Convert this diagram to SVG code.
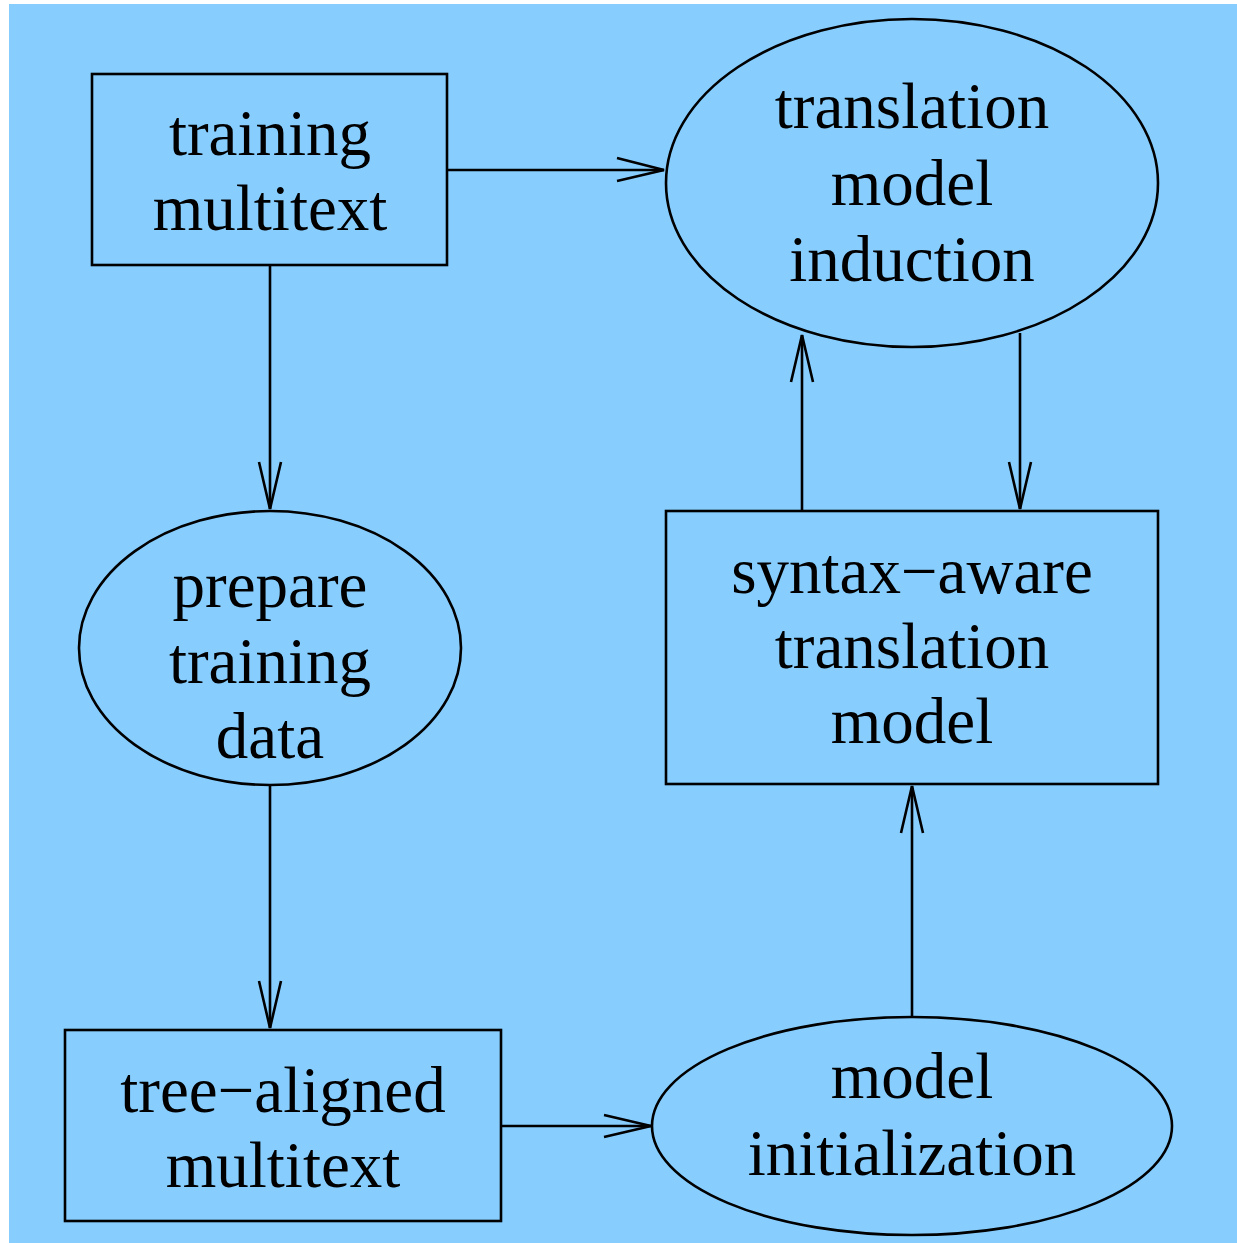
<svg xmlns="http://www.w3.org/2000/svg" width="1237" height="1243" viewBox="0 0 1237 1243">
<defs>
<style>
.shape{fill:none;stroke:#000;stroke-width:2.6}
.edge{fill:none;stroke:#000;stroke-width:2.6}
.head{fill:none;stroke:#000;stroke-width:2.6;stroke-linejoin:miter}
text{font-family:"Liberation Serif","Times New Roman",serif;font-size:65px;fill:#000;text-anchor:middle}
</style>
</defs>
<rect x="9" y="4" width="1228" height="1239" fill="#87CEFF"/>
<g id="connectors">
<path class="edge" d="M447,170 H664"/><path class="head" d="M617,158 L664,170 L617,181"/>
<path class="edge" d="M270,265 V509"/><path class="head" d="M259,462 L270,509 L281,462"/>
<path class="edge" d="M270,784 V1028"/><path class="head" d="M259,981 L270,1028 L281,981"/>
<path class="edge" d="M501,1126 H651"/><path class="head" d="M604,1115 L651,1126 L604,1137"/>
<path class="edge" d="M912,1017 V786"/><path class="head" d="M901,833 L912,786 L923,833"/>
<path class="edge" d="M802,511 V335"/><path class="head" d="M791,382 L802,335 L813,382"/>
<path class="edge" d="M1020,333 V509"/><path class="head" d="M1009,462 L1020,509 L1031,462"/>
</g>
<g id="training-multitext">
<rect class="shape" x="92" y="74" width="355" height="191"/>
<text x="270" y="155">training</text>
<text x="270" y="230">multitext</text>
</g>
<g id="translation-model-induction">
<ellipse class="shape" cx="912" cy="183" rx="246" ry="164"/>
<text x="912" y="128">translation</text>
<text x="912" y="205">model</text>
<text x="912" y="281">induction</text>
</g>
<g id="prepare-training-data">
<ellipse class="shape" cx="270" cy="648" rx="191" ry="137"/>
<text x="270" y="607">prepare</text>
<text x="270" y="683">training</text>
<text x="270" y="758">data</text>
</g>
<g id="syntax-aware-translation-model">
<rect class="shape" x="666" y="511" width="492" height="273"/>
<text x="912" y="593">syntax−aware</text>
<text x="912" y="668">translation</text>
<text x="912" y="743">model</text>
</g>
<g id="tree-aligned-multitext">
<rect class="shape" x="65" y="1030" width="436" height="191"/>
<text x="283" y="1112">tree−aligned</text>
<text x="283" y="1187">multitext</text>
</g>
<g id="model-initialization">
<ellipse class="shape" cx="912" cy="1126" rx="260" ry="109"/>
<text x="912" y="1098">model</text>
<text x="912" y="1175">initialization</text>
</g>
</svg>
